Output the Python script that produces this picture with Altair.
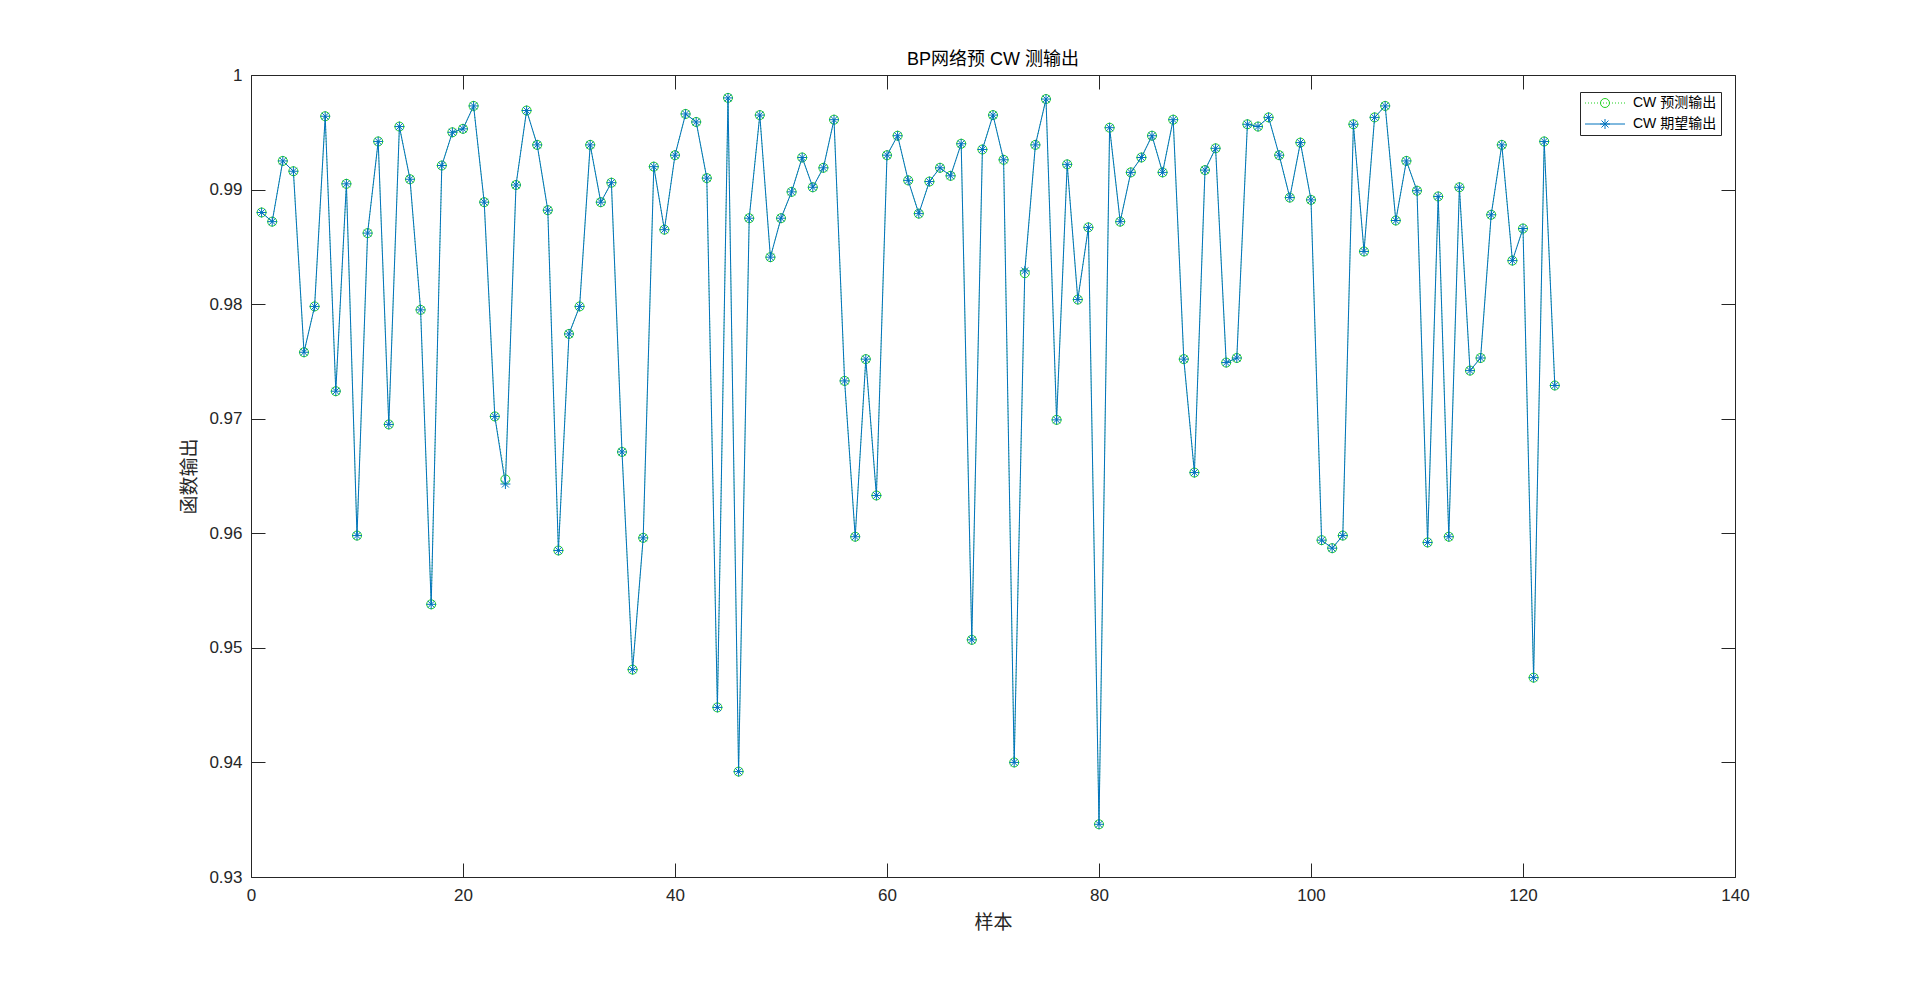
import altair as alt
import pandas as pd

# ---------------- data ----------------
sample_idx = list(range(1, 124))

expected = [
    0.9880, 0.9872, 0.9925, 0.9916, 0.9758, 0.9798, 0.9964, 0.9724, 0.9905, 0.9598,
    0.9862, 0.9942, 0.9695, 0.9955, 0.9909, 0.9795, 0.9538, 0.9921, 0.9950, 0.9953,
    0.9973, 0.9889, 0.9702, 0.9643, 0.9904, 0.9969, 0.9939, 0.9882, 0.9585, 0.9774,
    0.9798, 0.9939, 0.9889, 0.9906, 0.9671, 0.9481, 0.9596, 0.9920, 0.9865, 0.9930,
    0.9966, 0.9959, 0.9910, 0.9448, 0.9980, 0.9392, 0.9875, 0.9965, 0.9841, 0.9875,
    0.9898, 0.9928, 0.9902, 0.9919, 0.9961, 0.9733, 0.9597, 0.9752, 0.9633, 0.9930,
    0.9947, 0.9908, 0.9879, 0.9907, 0.9919, 0.9912, 0.9940, 0.9507, 0.9935, 0.9965,
    0.9926, 0.9400, 0.9829, 0.9939, 0.9979, 0.9699, 0.9922, 0.9804, 0.9867, 0.9346,
    0.9954, 0.9872, 0.9915, 0.9928, 0.9947, 0.9915, 0.9961, 0.9752, 0.9653, 0.9917,
    0.9936, 0.9749, 0.9753, 0.9957, 0.9955, 0.9963, 0.9930, 0.9893, 0.9941, 0.9891,
    0.9594, 0.9587, 0.9598, 0.9957, 0.9846, 0.9963, 0.9973, 0.9873, 0.9925, 0.9899,
    0.9592, 0.9894, 0.9597, 0.9902, 0.9742, 0.9753, 0.9878, 0.9939, 0.9838, 0.9866,
    0.9474, 0.9942, 0.9729,
]

predicted = [
    0.9880, 0.9872, 0.9925, 0.9916, 0.9758, 0.9798, 0.9964, 0.9724, 0.9905, 0.9598,
    0.9862, 0.9942, 0.9695, 0.9955, 0.9909, 0.9795, 0.9538, 0.9921, 0.9950, 0.9953,
    0.9973, 0.9889, 0.9702, 0.9647, 0.9904, 0.9969, 0.9939, 0.9882, 0.9585, 0.9774,
    0.9798, 0.9939, 0.9889, 0.9906, 0.9671, 0.9481, 0.9596, 0.9920, 0.9865, 0.9930,
    0.9966, 0.9959, 0.9910, 0.9448, 0.9980, 0.9392, 0.9875, 0.9965, 0.9841, 0.9875,
    0.9898, 0.9928, 0.9902, 0.9919, 0.9961, 0.9733, 0.9597, 0.9752, 0.9633, 0.9930,
    0.9947, 0.9908, 0.9879, 0.9907, 0.9919, 0.9912, 0.9940, 0.9507, 0.9935, 0.9965,
    0.9926, 0.9400, 0.9827, 0.9939, 0.9979, 0.9699, 0.9922, 0.9804, 0.9867, 0.9346,
    0.9954, 0.9872, 0.9915, 0.9928, 0.9947, 0.9915, 0.9961, 0.9752, 0.9653, 0.9917,
    0.9936, 0.9749, 0.9753, 0.9957, 0.9955, 0.9963, 0.9930, 0.9893, 0.9941, 0.9891,
    0.9594, 0.9587, 0.9598, 0.9957, 0.9846, 0.9963, 0.9973, 0.9873, 0.9925, 0.9899,
    0.9592, 0.9894, 0.9597, 0.9902, 0.9742, 0.9753, 0.9878, 0.9939, 0.9838, 0.9866,
    0.9474, 0.9942, 0.9729,
]

series_names = ["CW 预测输出", "CW 期望输出"]
x_ticks = [0, 20, 40, 60, 80, 100, 120, 140]
y_ticks = [0.93, 0.94, 0.95, 0.96, 0.97, 0.98, 0.99, 1.0]

title_text = "BP网络预 CW 测输出"
x_title = "样本"
y_title = "函数输出"

# ---------------- styling ----------------
W, H = 1484, 802
FONT = "'Liberation Sans', Arial, 'Noto Sans CJK SC', sans-serif"
AX = "#262626"
GREEN = "#1fd11f"
BLUE = "#0072BD"

ASTER = "M-1,0L1,0M0,-1L0,1M-0.7,-0.7L0.7,0.7M-0.7,0.7L0.7,-0.7"
CIRC = "M0.9,0A0.9,0.9 0 1 1 -0.9,0A0.9,0.9 0 1 1 0.9,0"
DOTS = "".join("M{:.2f},0L{:.2f},0".format(-4 + 0.6 * i, -4 + 0.6 * i + 0.2) for i in range(14))
LEG_PRED = DOTS + CIRC
LEG_EXP = "M-4,0L4,0" + ASTER

df = pd.DataFrame({
    "idx": sample_idx + sample_idx,
    "value": predicted + expected,
    "series": [series_names[0]] * len(predicted) + [series_names[1]] * len(expected),
})

xs = alt.Scale(domain=[0, 140], nice=False, zero=False)
ys = alt.Scale(domain=[0.93, 1.0], nice=False, zero=False)

tick_common = dict(labels=False, domain=False, grid=False, tickSize=14, tickWidth=1,
                   tickColor=AX, title=None)

ax_x_main = alt.Axis(values=x_ticks, ticks=False, tickSize=0, domain=False, grid=False,
                     labelFontSize=17, labelPadding=10, labelFont=FONT, labelColor=AX,
                     labelOverlap=False, labelFlush=False,
                     title=x_title, titleFontSize=19, titleFont=FONT, titleColor=AX,
                     titleFontWeight="normal", titlePadding=10)
ax_y_main = alt.Axis(values=y_ticks, ticks=False, tickSize=0, domain=False, grid=False,
                     format="~g", labelFontSize=17, labelPadding=9, labelFont=FONT,
                     labelColor=AX, labelOverlap=False, labelFlush=False,
                     title=y_title, titleFontSize=19, titleFont=FONT, titleColor=AX,
                     titleFontWeight="normal", titlePadding=9)
ax_x_bot_in = alt.Axis(orient="top", offset=-H, values=x_ticks, **tick_common)
ax_x_top_in = alt.Axis(orient="bottom", offset=-H, values=x_ticks, **tick_common)
ax_y_left_in = alt.Axis(orient="right", offset=-W, values=y_ticks, **tick_common)
ax_y_right_in = alt.Axis(orient="left", offset=-W, values=y_ticks, **tick_common)

pred_sel = "datum.series === '%s'" % series_names[0]
exp_sel = "datum.series === '%s'" % series_names[1]

base = alt.Chart(df)

line_pred = base.transform_filter(pred_sel).mark_line(
    color=GREEN, strokeWidth=0.8, strokeDash=[1, 2]
).encode(
    x=alt.X("idx:Q", scale=xs, axis=ax_x_main),
    y=alt.Y("value:Q", scale=ys, axis=ax_y_main),
)

pts_pred = base.transform_filter(pred_sel).mark_point(
    shape="circle", size=81, filled=False, color=GREEN, strokeWidth=1, opacity=1
).encode(
    x=alt.X("idx:Q", scale=xs, axis=ax_x_bot_in),
    y=alt.Y("value:Q", scale=ys, axis=ax_y_left_in),
)

line_exp = base.transform_filter(exp_sel).mark_line(
    color=BLUE, strokeWidth=1
).encode(
    x=alt.X("idx:Q", scale=xs, axis=ax_x_top_in),
    y=alt.Y("value:Q", scale=ys, axis=ax_y_right_in),
)

pts_exp = base.transform_filter(exp_sel).mark_point(
    shape=ASTER, size=100, filled=False, color=BLUE, strokeWidth=1, opacity=1
).encode(
    x=alt.X("idx:Q", scale=xs, axis=None),
    y=alt.Y("value:Q", scale=ys, axis=None),
)

legend_layer = base.transform_filter("false").mark_point(
    filled=False, strokeWidth=1, opacity=1
).encode(
    x=alt.X("idx:Q", scale=xs, axis=None),
    y=alt.Y("value:Q", scale=ys, axis=None),
    color=alt.Color("series:N",
                    scale=alt.Scale(domain=series_names, range=[GREEN, BLUE]),
                    legend=alt.Legend(title=None, orient="none", legendX=1329, legendY=17,
                                      strokeColor=AX, fillColor="white", padding=4,
                                      symbolSize=100, symbolStrokeWidth=1,
                                      symbolOffset=14, labelOffset=21,
                                      labelFontSize=14, labelFont=FONT, labelColor="black",
                                      rowPadding=7)),
    shape=alt.Shape("series:N",
                    scale=alt.Scale(domain=series_names, range=[LEG_PRED, LEG_EXP])),
)

chart = alt.layer(line_pred, pts_pred, line_exp, pts_exp, legend_layer).resolve_axis(
    x="independent", y="independent"
).properties(
    width=W, height=H,
    autosize=alt.AutoSizeParams(type="none"),
    padding={"left": 243, "top": 67, "right": 170, "bottom": 100},
    title=alt.Title(title_text, fontSize=18, font=FONT, fontWeight="normal",
                    color="black", offset=-3, anchor="middle", frame="group"),
    background="white",
).configure_view(stroke=AX, strokeWidth=1)

chart.save("out.html", embed_options={"renderer": "svg", "actions": False})
